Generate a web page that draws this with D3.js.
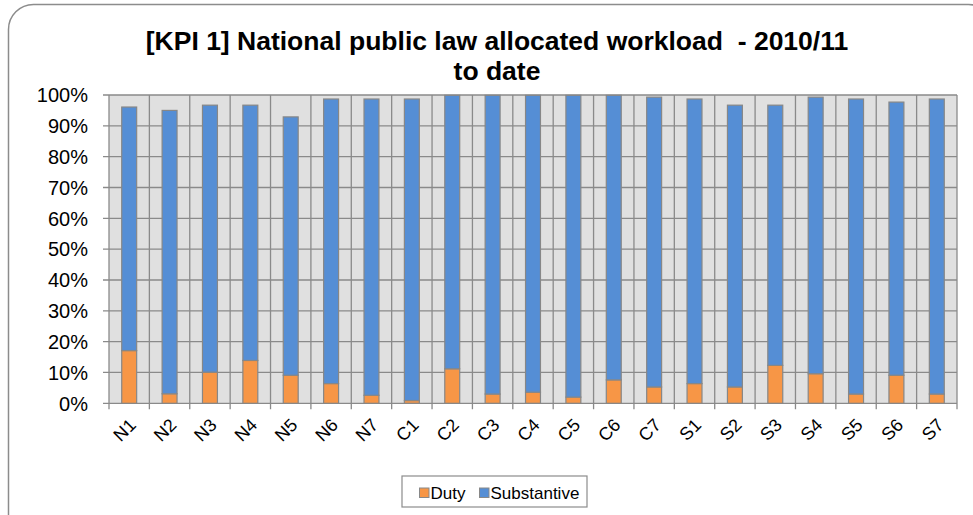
<!DOCTYPE html>
<html><head><meta charset="utf-8">
<script src="https://cdn.jsdelivr.net/npm/d3@7"></script>
<style>body{margin:0;background:#fff;}svg{display:block;font-family:"Liberation Sans",Arial,sans-serif;}</style>
</head><body>
<script>
const categories = ["N1","N2","N3","N4","N5","N6","N7","C1","C2","C3","C4","C5","C6","C7","S1","S2","S3","S4","S5","S6","S7"];
const duty = [17.1, 3.1, 10.1, 13.9, 9.1, 6.4, 2.6, 0.9, 11.2, 3.0, 3.6, 2.0, 7.6, 5.3, 6.4, 5.3, 12.3, 9.6, 3.0, 9.1, 3.0];
const total = [96.1, 95.0, 96.7, 96.7, 92.9, 98.7, 98.7, 98.7, 99.9, 99.9, 99.9, 99.9, 99.9, 99.3, 98.7, 96.7, 96.7, 99.3, 98.7, 97.7, 98.7];
const substantive = total.map((t,i)=>+(t-duty[i]).toFixed(1));
const yTicks = [0,10,20,30,40,50,60,70,80,90,100];
const seriesNames = ["Duty","Substantive"];
const colors = ["#f79646","#558ed5"];

const W=973,H=515;
const svg=d3.select("body").append("svg").attr("width",W).attr("height",H);
svg.append("rect").attr("x",8.5).attr("y",4.5).attr("width",985).attr("height",540).attr("rx",25)
  .attr("fill","#fff").attr("stroke","#8c8c8c").attr("stroke-width",1.5);

const L=109,R=957,T=95,B=403.3;
const x=d3.scaleBand().domain(categories).range([L,R]).paddingInner(0).paddingOuter(0);
const y=d3.scaleLinear().domain([0,100]).range([B,T]);
svg.append("rect").attr("x",L).attr("y",T).attr("width",R-L).attr("height",B-T).attr("fill","#e0e0e0");

const gridC="#8a8a8a";
svg.append("g").selectAll("line").data(yTicks).join("line")
  .attr("x1",L-6).attr("x2",R).attr("y1",d=>y(d)).attr("y2",d=>y(d))
  .attr("stroke",gridC).attr("stroke-width",1.3);
const bounds=categories.map(c=>x(c)).concat([R]);
svg.append("g").selectAll("line").data(bounds).join("line")
  .attr("x1",d=>d).attr("x2",d=>d).attr("y1",T).attr("y2",B+6)
  .attr("stroke",gridC).attr("stroke-width",1.3);

svg.append("g").selectAll("text").data(yTicks).join("text")
  .attr("x",88).attr("y",d=>y(d)).attr("dy","0.36em").attr("text-anchor","end")
  .attr("font-size",20).attr("fill","#000").text(d=>d+"%");

const data=categories.map((c,i)=>({cat:c,Duty:duty[i],Substantive:substantive[i]}));
const stack=d3.stack().keys(seriesNames)(data);
const bw=x.bandwidth()*0.37;
svg.append("g").selectAll("g").data(stack).join("g").attr("fill",(d,i)=>colors[i])
  .selectAll("rect").data(d=>d).join("rect")
  .attr("x",d=>x(d.data.cat)+x.bandwidth()/2-bw/2).attr("width",bw)
  .attr("y",d=>y(d[1])).attr("height",d=>y(d[0])-y(d[1]))
  .attr("stroke","#878787").attr("stroke-width",1.2);

svg.append("g").selectAll("text").data(categories).join("text")
  .attr("transform",d=>`translate(${x(d)+x.bandwidth()/2-1},${B+14}) rotate(-45)`)
  .attr("text-anchor","end").attr("dy","0.7em").attr("font-size",18).attr("fill","#000").text(d=>d);

const title=svg.append("text").attr("x",497).attr("text-anchor","middle").style("white-space","pre")
  .attr("font-size",26.5).attr("font-weight","bold").attr("fill","#000");
title.append("tspan").attr("x",497).attr("y",50).text("[KPI 1] National public law allocated workload  - 2010/11");
title.append("tspan").attr("x",497).attr("y",80).text("to date");

const lg=svg.append("g");
lg.append("rect").attr("x",402).attr("y",476).attr("width",185).attr("height",31).attr("fill","#fff").attr("stroke","#8c8c8c").attr("stroke-width",1.2);
const items=[{n:"Duty",x:419.5},{n:"Substantive",x:479.5}];
items.forEach((it,i)=>{
  lg.append("rect").attr("x",it.x).attr("y",488).attr("width",9.5).attr("height",9.5)
    .attr("fill",colors[i]).attr("stroke","#888").attr("stroke-width",1);
  lg.append("text").attr("x",it.x+11).attr("y",499).attr("font-size",17).attr("fill","#000").text(it.n);
});
</script>
</body></html>
